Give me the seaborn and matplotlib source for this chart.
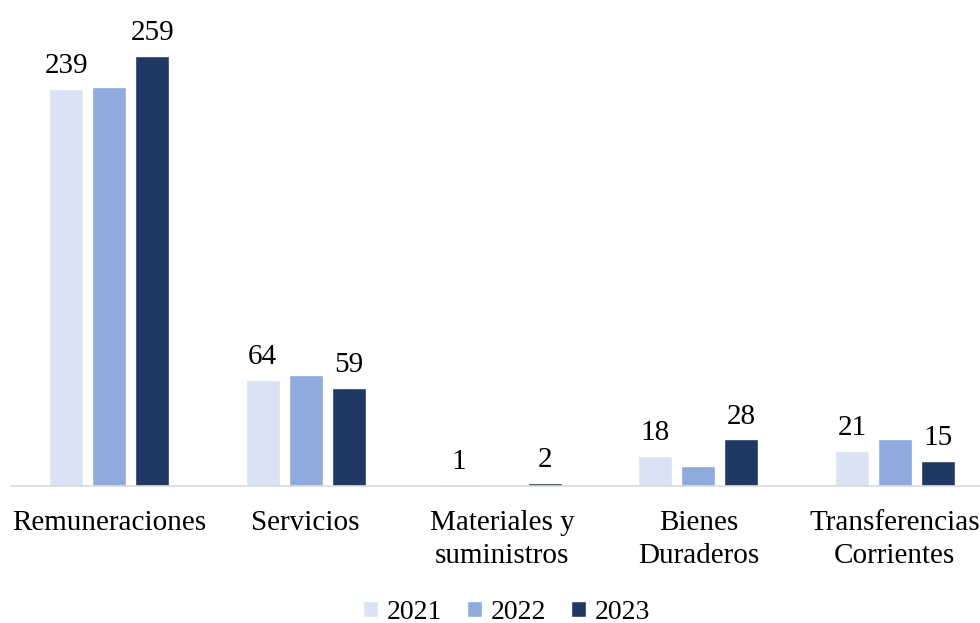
import matplotlib
matplotlib.use("Agg")
import matplotlib.pyplot as plt
import seaborn as sns
import pandas as pd
from matplotlib.patches import Patch

categories = ["Remuneraciones", "Servicios", "Materiales y\nsuministros",
              "Bienes\nDuraderos", "Transferencias\nCorrientes"]
years = ["2021", "2022", "2023"]
v2021 = [239, 64, 1, 18, 21]
v2022 = [240, 67, 0.5, 12, 28]
v2023 = [259, 59, 2, 28, 15]
colors = ["#DAE3F3", "#8FAADC", "#203864"]

rows = []
for y, vals in zip(years, [v2021, v2022, v2023]):
    for c, v in zip(categories, vals):
        rows.append({"categoria": c, "anio": y, "valor": v})
df = pd.DataFrame(rows)

sns.set_theme(style="white")
plt.rcParams["font.family"] = ["Liberation Serif", "DejaVu Serif"]
plt.rcParams["text.color"] = "black"

fig = plt.figure(figsize=(9.8, 6.23), dpi=100)
ax = fig.add_axes([11 / 980, 137 / 623, 982 / 980, 270 * 1.662 / 623])

sns.barplot(data=df, x="categoria", y="valor", hue="anio", order=categories,
            hue_order=years, palette=colors, saturation=1, width=0.656,
            gap=0.21, ax=ax, legend=False)

ax.set_xlim(-0.5, 4.5)
ax.set_ylim(0, 270)
ax.set_xlabel("")
ax.set_ylabel("")
ax.set_yticks([])
for s in ["top", "right", "left"]:
    ax.spines[s].set_visible(False)
ax.spines["bottom"].set_color("#D9D9D9")
ax.spines["bottom"].set_linewidth(1.2)
ax.tick_params(axis="x", length=0, pad=17, labelsize=21, labelcolor="black")
for lbl in ax.get_xticklabels():
    lbl.set_linespacing(1.35)

labels = {0: v2021, 2: v2023}
for i, cont in enumerate(ax.containers):
    if i in labels:
        ax.bar_label(cont, labels=[str(v) for v in labels[i]], padding=7,
                     fontsize=21, color="black")

handles = [Patch(facecolor=c, label=y) for c, y in zip(colors, years)]
fig.legend(handles=handles, loc="lower center", bbox_to_anchor=(0.517, -0.043),
           ncol=3, frameon=False, fontsize=20, handlelength=0.55,
           handleheight=0.55, handletextpad=0.3, columnspacing=0.9,
           labelcolor="black")

fig.savefig("out.png", dpi=100)
